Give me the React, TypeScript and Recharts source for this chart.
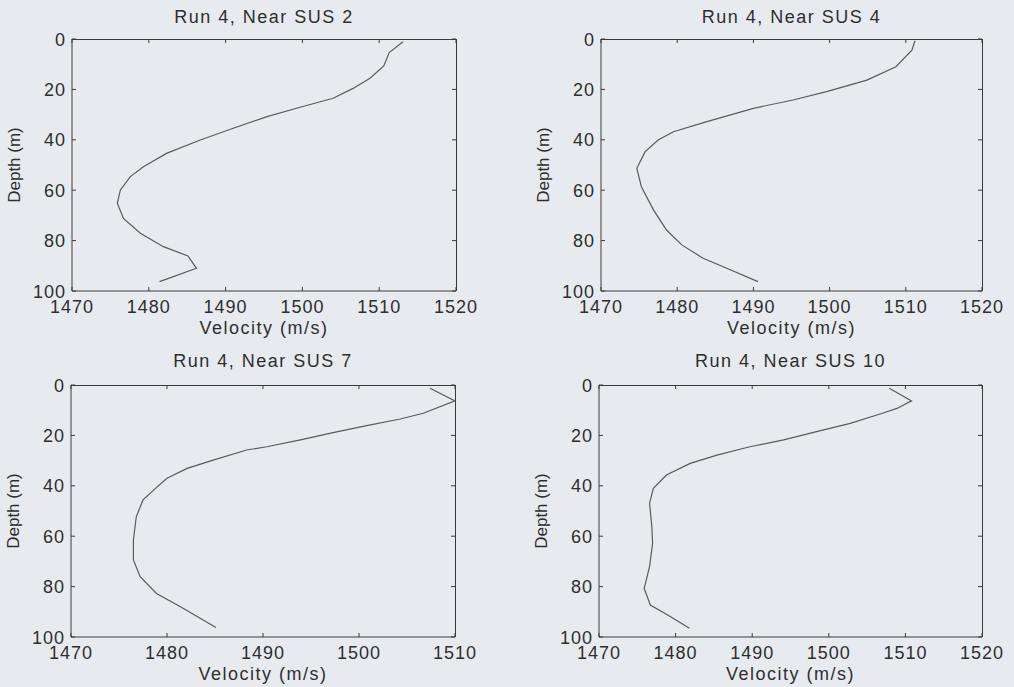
import React from "react";
import { Line, LineChart, XAxis, YAxis } from "recharts";

// velocity (m/s) vs depth (m)
const sus2Velocity = [1513.1, 1511.3, 1510.6, 1508.8, 1506.6, 1504.0, 1499.7, 1495.4, 1491.0, 1486.7, 1482.3, 1479.3, 1477.6, 1476.3, 1475.9, 1476.7, 1478.9, 1481.9, 1485.1, 1486.2, 1481.4];
const sus2Depth = [1.1, 5.4, 10.7, 15.6, 19.6, 23.5, 27.1, 30.8, 35.4, 40.1, 45.4, 50.7, 54.6, 59.9, 65.2, 71.2, 77.1, 82.4, 86.1, 91.0, 96.3];

const sus4Velocity = [1511.2, 1510.8, 1508.7, 1504.9, 1499.6, 1495.2, 1490.0, 1483.9, 1479.5, 1477.5, 1475.8, 1474.7, 1475.3, 1476.9, 1478.6, 1480.6, 1483.4, 1486.5, 1490.6];
const sus4Depth = [0.7, 4.4, 11.0, 16.3, 20.9, 24.2, 27.5, 32.8, 36.8, 40.1, 44.7, 51.3, 58.6, 67.9, 75.8, 81.7, 87.0, 91.0, 96.3];

const sus7Velocity = [1507.4, 1510.0, 1506.7, 1504.3, 1500.8, 1497.3, 1493.9, 1490.4, 1488.3, 1484.8, 1482.1, 1480.0, 1478.6, 1477.5, 1476.8, 1476.5, 1476.5, 1477.2, 1478.9, 1481.4, 1485.1];
const sus7Depth = [1.3, 6.3, 11.2, 13.5, 16.1, 18.9, 21.8, 24.5, 25.8, 29.8, 33.1, 37.0, 41.7, 45.6, 52.3, 61.5, 69.4, 76.1, 82.7, 88.0, 96.2];

const sus10Velocity = [1507.9, 1510.8, 1508.9, 1506.7, 1502.8, 1498.4, 1494.1, 1489.7, 1485.4, 1481.9, 1478.8, 1477.1, 1476.6, 1476.9, 1477.0, 1476.6, 1475.9, 1476.7, 1479.3, 1481.8];
const sus10Depth = [1.3, 6.3, 9.3, 11.5, 15.2, 18.5, 21.8, 24.5, 27.8, 31.1, 35.7, 41.0, 46.9, 56.2, 62.8, 72.1, 80.7, 87.3, 91.9, 96.5];

const wideTicks = [1470, 1480, 1490, 1500, 1510, 1520];
const narrowTicks = [1470, 1480, 1490, 1500, 1510];
const depthTicks = [0, 20, 40, 60, 80, 100];

const FONT = "'Liberation Sans', Arial, sans-serif";
const BG = "#e7ebf0";
const FRAME = "#3a3a3a";
const TEXT = "#2e2e2e";
const LINE = "#5a5a5a";

const toRows = (v: number[], d: number[]) => v.map((x, i) => ({ v: x, d: d[i] }));

interface PanelProps {
  title: string;
  velocity: number[];
  depth: number[];
  xTicks: number[];
  left: number;
  top: number;
  plot: { x0: number; x1: number; y0: number; y1: number };
}

const W = 507;
const H = 343;
const AX_H = 30;
const AX_W = 60;

function Panel({ title, velocity, depth, xTicks, left, top, plot }: PanelProps) {
  const data = toRows(velocity, depth);
  const px0 = plot.x0 - left;
  const px1 = plot.x1 - left;
  const py0 = plot.y0 - top;
  const py1 = plot.y1 - top;
  const cx = (px0 + px1) / 2;
  const cy = (py0 + py1) / 2;
  const domain: [number, number] = [xTicks[0], xTicks[xTicks.length - 1]];

  const bottomTick = (p: any) => (
    <g>
      <line x1={p.x} x2={p.x} y1={py1} y2={py1 - 4} stroke={FRAME} />
      <line x1={p.x} x2={p.x} y1={py0} y2={py0 + 4} stroke={FRAME} />
      <text x={p.x} y={py1 + 22} textAnchor="middle" fontSize={18} letterSpacing={1} fill={TEXT} fontFamily={FONT}>
        {p.payload.value}
      </text>
    </g>
  );
  const leftTick = (p: any) => (
    <g>
      <line x1={px0} x2={px0 + 4} y1={p.y} y2={p.y} stroke={FRAME} />
      <line x1={px1} x2={px1 - 4} y1={p.y} y2={p.y} stroke={FRAME} />
      <text x={px0 - 6} y={p.y + 6.5} textAnchor="end" fontSize={18} letterSpacing={1} fill={TEXT} fontFamily={FONT}>
        {p.payload.value}
      </text>
    </g>
  );

  return (
    <div style={{ position: "absolute", left, top, width: W, height: H }}>
      <LineChart
        width={W}
        height={H}
        data={data}
        margin={{ top: py0, left: px0 - AX_W, right: W - px1, bottom: H - py1 - AX_H }}
      >
        <XAxis
          dataKey="v"
          type="number"
          domain={domain}
          ticks={xTicks}
          allowDataOverflow
          height={AX_H}
          tickSize={0}
          tickMargin={0}
          axisLine={{ stroke: FRAME }}
          tickLine={false}
          tick={bottomTick}
          interval={0}
        />
        <YAxis
          type="number"
          domain={[0, 100]}
          ticks={depthTicks}
          reversed
          allowDataOverflow
          width={AX_W}
          tickSize={0}
          tickMargin={0}
          axisLine={{ stroke: FRAME }}
          tickLine={false}
          tick={leftTick}
          interval={0}
        />
        <Line
          dataKey="d"
          stroke={LINE}
          strokeWidth={1.2}
          dot={false}
          activeDot={false}
          isAnimationActive={false}
        />
      </LineChart>
      {/* frame top and right edges */}
      <div
        style={{
          position: "absolute",
          left: px0,
          top: py0,
          width: px1 - px0 + 1,
          height: py1 - py0,
          borderTop: `1px solid ${FRAME}`,
          borderRight: `1px solid ${FRAME}`,
          boxSizing: "border-box",
          pointerEvents: "none",
        }}
      />
      <div
        style={{
          position: "absolute",
          left: cx - 150,
          width: 300,
          top: 7,
          textAlign: "center",
          fontFamily: FONT,
          fontSize: 18,
          letterSpacing: 1.5,
          color: TEXT,
          whiteSpace: "nowrap",
        }}
      >
        {title}
      </div>
      <div
        style={{
          position: "absolute",
          left: cx - 150,
          width: 300,
          top: py1 + 27,
          textAlign: "center",
          fontFamily: FONT,
          fontSize: 18,
          letterSpacing: 1.5,
          color: TEXT,
          whiteSpace: "nowrap",
        }}
      >
        Velocity (m/s)
      </div>
      <div
        style={{
          position: "absolute",
          left: px0 - 57 - 60,
          top: cy - 10,
          width: 120,
          height: 20,
          lineHeight: "20px",
          textAlign: "center",
          fontFamily: FONT,
          fontSize: 17,
          color: TEXT,
          transform: "rotate(-90deg)",
          whiteSpace: "nowrap",
        }}
      >
        Depth (m)
      </div>
    </div>
  );
}

export default function App() {
  return (
    <div
      style={{
        position: "fixed",
        left: 0,
        top: 0,
        width: 1014,
        height: 687,
        background: BG,
        overflow: "hidden",
      }}
    >
      <Panel
        title="Run 4, Near SUS 2"
        velocity={sus2Velocity}
        depth={sus2Depth}
        xTicks={wideTicks}
        left={0}
        top={0}
        plot={{ x0: 72, x1: 456, y0: 39, y1: 291 }}
      />
      <Panel
        title="Run 4, Near SUS 4"
        velocity={sus4Velocity}
        depth={sus4Depth}
        xTicks={wideTicks}
        left={507}
        top={0}
        plot={{ x0: 601, x1: 982, y0: 39, y1: 291 }}
      />
      <Panel
        title="Run 4, Near SUS 7"
        velocity={sus7Velocity}
        depth={sus7Depth}
        xTicks={narrowTicks}
        left={0}
        top={344}
        plot={{ x0: 71, x1: 455, y0: 385, y1: 637 }}
      />
      <Panel
        title="Run 4, Near SUS 10"
        velocity={sus10Velocity}
        depth={sus10Depth}
        xTicks={wideTicks}
        left={507}
        top={344}
        plot={{ x0: 599, x1: 982, y0: 385, y1: 637 }}
      />
    </div>
  );
}
